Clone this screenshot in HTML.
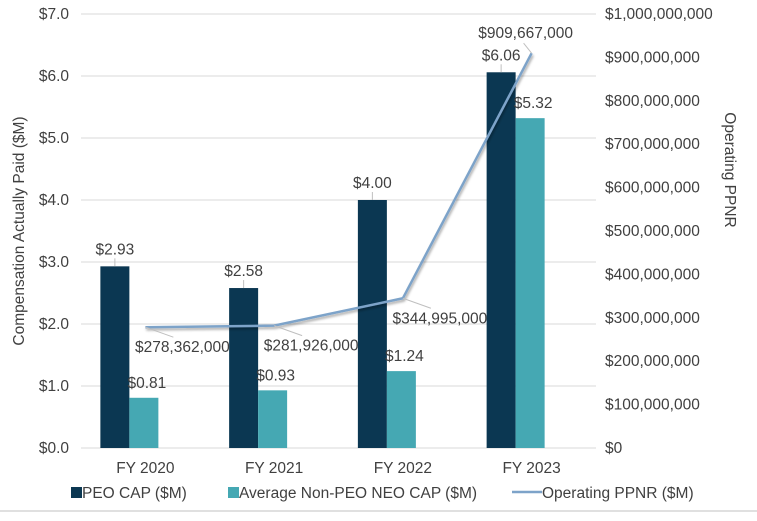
<!DOCTYPE html>
<html><head><meta charset="utf-8"><style>
body{margin:0;background:#fff;width:757px;height:516px;overflow:hidden;font-family:"Liberation Sans",sans-serif}
svg text{font-family:"Liberation Sans",sans-serif;fill:#404040}
</style></head><body>
<svg id="c" width="757" height="516">
<defs><filter id="sh" x="-10%" y="-10%" width="120%" height="140%"><feDropShadow dx="1" dy="2" stdDeviation="1.2" flood-color="#000" flood-opacity="0.35"/></filter></defs>
</svg>
<script>
const categories=["FY 2020","FY 2021","FY 2022","FY 2023"];
const peoCap=[2.93,2.58,4.00,6.06];
const neoCap=[0.81,0.93,1.24,5.32];
const ppnr=[278362000,281926000,344995000,909667000];
const leftTicks=[0,1,2,3,4,5,6,7];
const rightTicks=[0,100000000,200000000,300000000,400000000,500000000,600000000,700000000,800000000,900000000,1000000000];
const svg=document.getElementById('c');const NS='http://www.w3.org/2000/svg';
function mk(t,a,p){const e=document.createElementNS(NS,t);for(const k in a)e.setAttribute(k,a[k]);(p||svg).appendChild(e);return e;}
const FS=15.5;
const X0=81,X1=596,Y0=448,Y1=14;
const yL=v=>Y0-(v/7)*(Y0-Y1);
const yR=v=>Y0-(v/1e9)*(Y0-Y1);
const step=(X1-X0)/categories.length;
const xC=i=>X0+step*(i+0.5)-16;
const fmt=n=>'$'+n.toLocaleString('en-US');
leftTicks.forEach(v=>{
 const g=mk('line',{x1:X0,x2:X1,y1:yL(v),y2:yL(v),stroke:'#d9d9d9','stroke-width':1});
 
 const t=mk('text',{x:69,y:yL(v)+5,'text-anchor':'end','font-size':FS});t.textContent='$'+v.toFixed(1);
 
});
rightTicks.forEach(v=>{
 const t=mk('text',{x:605,y:yR(v)+5,'font-size':FS});t.textContent=fmt(v);
 
});
const bw=29;
categories.forEach((c,i)=>{
 const cx=xC(i);
 const b1=mk('rect',{x:cx-bw,y:yL(peoCap[i]),width:bw,height:Y0-yL(peoCap[i]),fill:'#0b3752'});
 
 const b2=mk('rect',{x:cx,y:yL(neoCap[i]),width:bw,height:Y0-yL(neoCap[i]),fill:'#45a8b3'});
 
 const l1=mk('text',{x:cx-bw/2,y:yL(peoCap[i])-12,'text-anchor':'middle','font-size':FS});l1.textContent='$'+peoCap[i].toFixed(2);
 
 mk('line',{x1:cx-bw/2,x2:cx-bw/2,y1:yL(peoCap[i])-8,y2:yL(peoCap[i]),stroke:'#bfbfbf'});
 const l2=mk('text',{x:cx+bw/2+3,y:yL(neoCap[i])-10,'text-anchor':'middle','font-size':FS});l2.textContent='$'+neoCap[i].toFixed(2);
 
 const ct=mk('text',{x:xC(i)+16,y:473,'text-anchor':'middle','font-size':FS});ct.textContent=c;
 
});
const lx=i=>xC(i)+16;
const pts=ppnr.map((v,i)=>lx(i)+','+yR(v)).join(' ');
const pl=mk('polyline',{points:pts,fill:'none',stroke:'#7da3c9','stroke-width':2.5,filter:'url(#sh)'});

ppnr.forEach((v,i)=>{
 const px=lx(i),py=yR(v);
 let tx,ty;
 if(i<3){mk('line',{x1:px,y1:py,x2:px+28,y2:py+10,stroke:'#bfbfbf'});tx=px+37;ty=py+25;}
 else{mk('line',{x1:px,y1:py,x2:px-8,y2:py-10,stroke:'#bfbfbf'});tx=px-6;ty=py-15;}
 const t=mk('text',{x:tx,y:ty,'text-anchor':'middle','font-size':FS});t.textContent=fmt(v);
 
});
const at=mk('text',{x:24,y:231,'text-anchor':'middle','font-size':FS,transform:'rotate(-90 24 231)'});at.textContent='Compensation Actually Paid ($M)';

const rt=mk('text',{x:725,y:170,'text-anchor':'middle','font-size':FS,transform:'rotate(90 725 170)'});rt.textContent='Operating PPNR';

const lg=mk('g',{});
mk('rect',{x:71,y:487,width:11,height:11,fill:'#0b3752'},lg);
let t=mk('text',{x:82,y:498,'font-size':FS},lg);t.textContent='PEO CAP ($M)';

mk('rect',{x:228,y:487,width:11,height:11,fill:'#45a8b3'},lg);
t=mk('text',{x:239,y:498,'font-size':FS},lg);t.textContent='Average Non-PEO NEO CAP ($M)';

mk('line',{x1:512,x2:542,y1:492,y2:492,stroke:'#7da3c9','stroke-width':2.5},lg);
t=mk('text',{x:542,y:498,'font-size':FS},lg);t.textContent='Operating PPNR ($M)';

const bl=mk('line',{x1:0,x2:757,y1:511,y2:511,stroke:'#e0e0e0','stroke-width':2});

</script>
</body></html>
